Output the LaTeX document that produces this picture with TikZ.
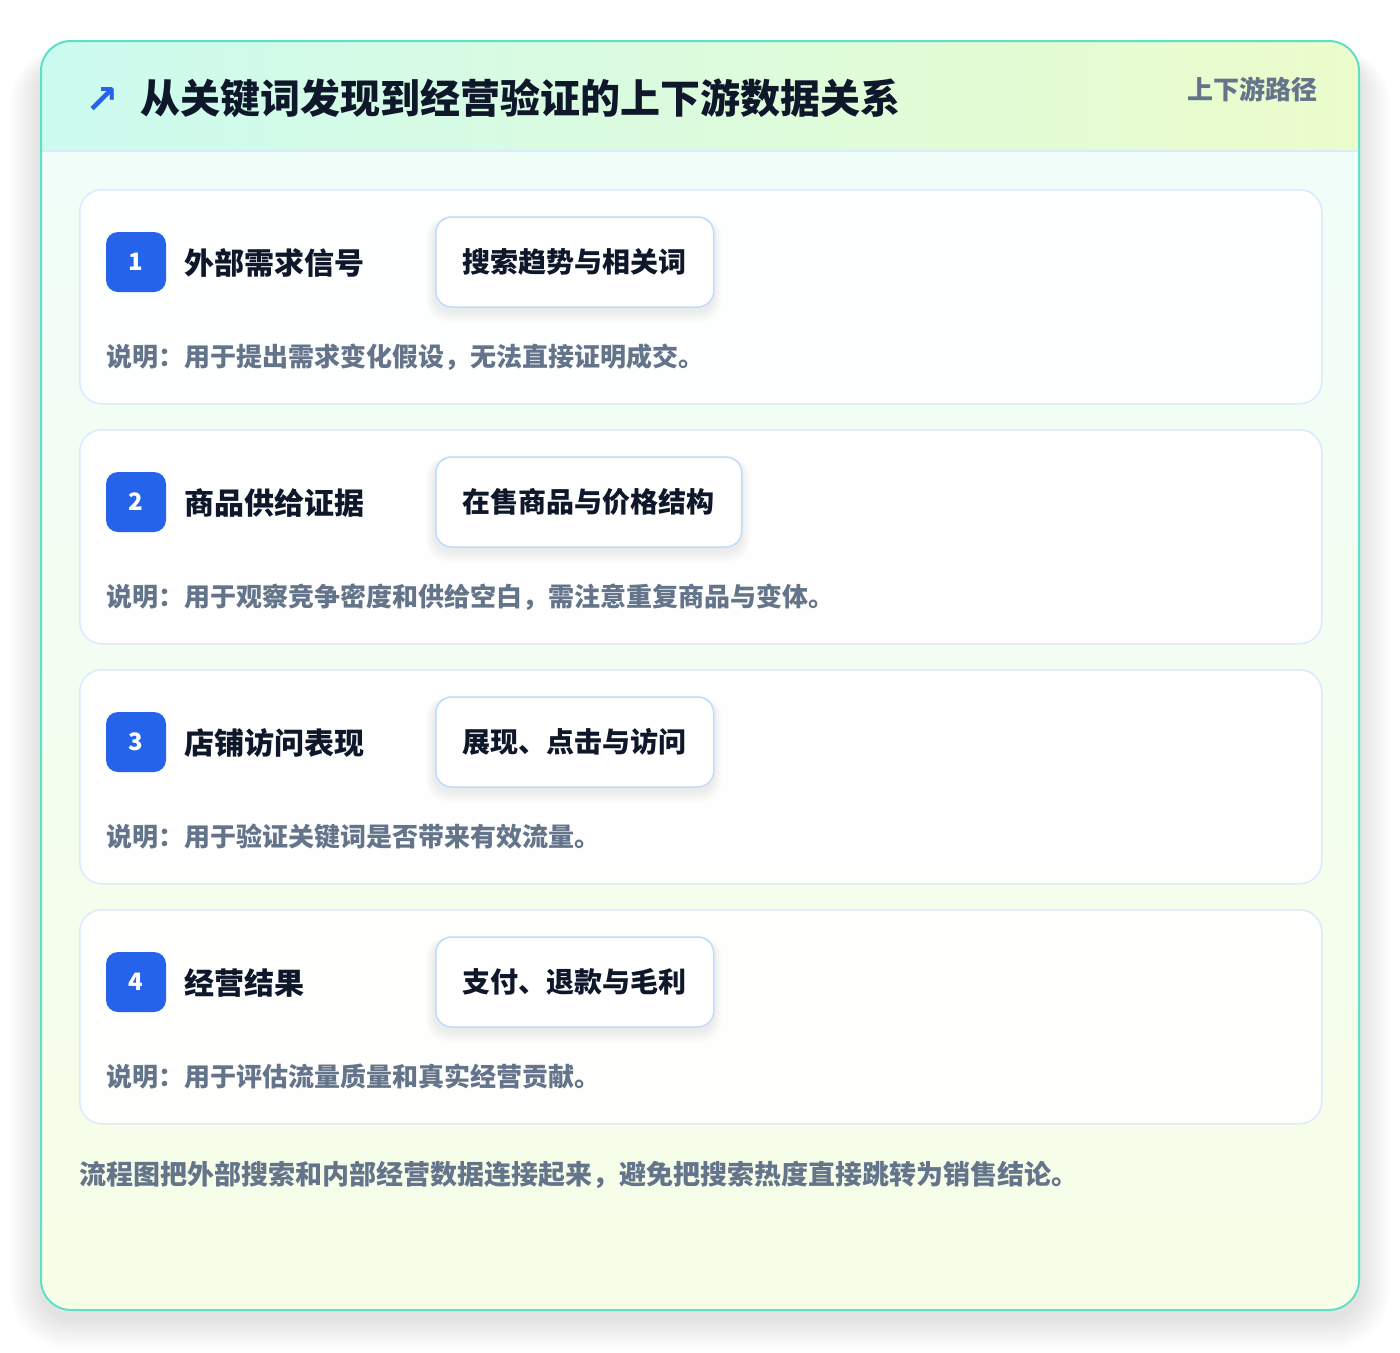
\documentclass[tikz,border=0pt]{standalone}
\usepackage{fontspec}
\setmainfont{Noto Sans CJK SC}
\newfontfamily\symfont{DejaVu Sans}
\usetikzlibrary{positioning}
\definecolor{tealb}{HTML}{5EE0C8}
\definecolor{hdrL}{HTML}{CCFBEF}
\definecolor{hdrR}{HTML}{ECFCCB}
\definecolor{bodyT}{HTML}{F0FDFA}
\definecolor{bodyB}{HTML}{F7FEE7}
\definecolor{lineblue}{HTML}{DBEAFE}
\definecolor{pillblue}{HTML}{BFDBFE}
\definecolor{badgeblue}{HTML}{2563EB}
\definecolor{ink}{HTML}{0F172A}
\definecolor{slate}{HTML}{64748B}
\tikzset{
  stepcard/.style={draw=lineblue, line width=1.5pt, fill=white, fill opacity=0.9, draw opacity=1, rounded corners=22pt, minimum width=1242pt, minimum height=214pt, anchor=north west, inner sep=0pt},
  badge/.style={fill=badgeblue, rounded corners=12pt, minimum width=60pt, minimum height=60pt, inner sep=0pt, text=white, font=\fontsize{24}{28}\selectfont\bfseries},
  steptitle/.style={anchor=west, inner sep=0pt, text=ink, font=\fontsize{30}{36}\selectfont\bfseries},
  pill/.style={draw=pillblue, line width=1.5pt, fill=white, rounded corners=16pt, minimum height=90pt, inner xsep=27pt, inner ysep=0pt, anchor=west, text=ink, font=\fontsize{28}{34}\selectfont\bfseries},
  desc/.style={anchor=west, inner sep=0pt, text=slate, font=\fontsize{26}{31}\selectfont\bfseries},
}
\begin{document}
\begin{tikzpicture}[x=1pt,y=-1pt]
\useasboundingbox (0,0) rectangle (1400,1352);
\fill[white] (0,0) rectangle (1400,1352);
% outer card shadow
\foreach \k in {1,...,14}{
  \fill[black, opacity=0.008, rounded corners=30pt+\k*2pt] (41-\k*2.2,41+20-\k*1.0) rectangle (1359+\k*2.2,1310+8+\k*2.2);
}
% card background
\begin{scope}
  \clip[rounded corners=30pt] (41,41) rectangle (1359,1310);
  \shade[top color=bodyT, bottom color=bodyB] (41,41) rectangle (1359,1310);
  \shade[left color=hdrL, right color=hdrR] (41,41) rectangle (1359,151);
\end{scope}
\draw[lineblue, line width=1.5pt] (41.5,151) -- (1358.5,151);
\draw[tealb, line width=2pt, rounded corners=30pt] (41,41) rectangle (1359,1310);
% header
\node[anchor=center, inner sep=0pt, text=badgeblue, font=\symfont\bfseries\fontsize{40}{46}\selectfont] (icon) at (102,100) {↗};
\node[anchor=west, inner sep=0pt, text=ink, font=\fontsize{40}{48}\selectfont\bfseries] (title) at (140,98) {从关键词发现到经营验证的上下游数据关系};
\node[anchor=east, inner sep=0pt, text=slate, font=\fontsize{26}{31}\selectfont\bfseries] (tag) at (1318,89) {上下游路径};
% steps
\foreach \i/\w/\t/\p/\d in {
  1/278/外部需求信号/搜索趋势与相关词/说明：用于提出需求变化假设，无法直接证明成交。,
  2/306/商品供给证据/在售商品与价格结构/说明：用于观察竞争密度和供给空白，需注意重复商品与变体。,
  3/278/店铺访问表现/展现、点击与访问/说明：用于验证关键词是否带来有效流量。,
  4/278/经营结果/支付、退款与毛利/说明：用于评估流量质量和真实经营贡献。}{
  \pgfmathsetmacro{\top}{189+240*(\i-1)}
  \node[stepcard] (card\i) at (79,\top) {};
  \node[badge] (badge\i) at (136,\top+73) {\i};
  \node[steptitle] (name\i) at (184,\top+74) {\t};
  \foreach \s in {1,...,6}{
    \fill[black, opacity=0.01, rounded corners=16pt+\s*1pt] (435-\s*1.5,\top+28+4-\s*0.8) rectangle (435+\w+\s*1.5,\top+118+4+\s*1.8);
  }
  \node[pill] (pill\i) at (435,\top+73) {\p};
  \node[desc] (desc\i) at (106,\top+168) {\d};
}
% footer
\node[anchor=west, inner sep=0pt, text=slate, font=\fontsize{27}{32}\selectfont\bfseries] (foot) at (79,1175) {流程图把外部搜索和内部经营数据连接起来，避免把搜索热度直接跳转为销售结论。};
\end{tikzpicture}
\end{document}
